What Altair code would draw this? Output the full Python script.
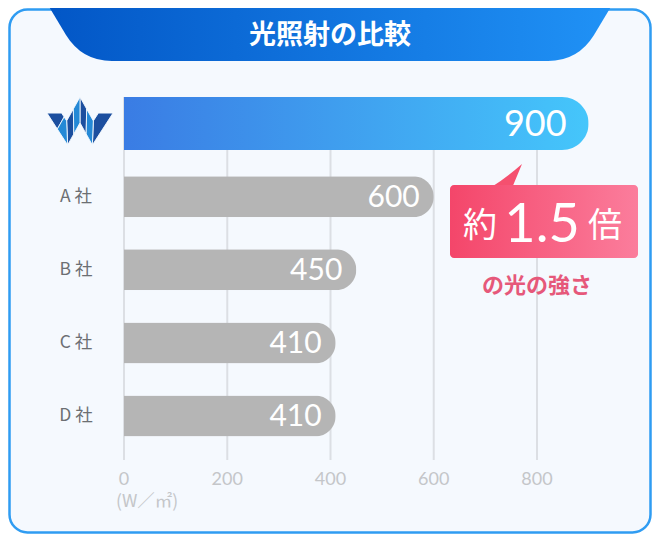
import altair as alt
import pandas as pd
import numpy as np

# ---------------- data ----------------
companies = ["logo", "A 社", "B 社", "C 社", "D 社"]
values = [900, 600, 450, 410, 410]
row_labels = ["", "A 社", "B 社", "C 社", "D 社"]
tick_values = [0, 200, 400, 600, 800]
title_text = "光照射の比較"
unit_text = "(W／㎡)"
callout_prefix = "約"
callout_number = "1.5"
callout_suffix = "倍"
callout_note = "の光の強さ"

main = pd.DataFrame({
    "company": companies,
    "value": values,
    "label": [str(v) for v in values],
    "name": row_labels,
})
ticks = pd.DataFrame({"tick": tick_values, "tlabel": [str(t) for t in tick_values]})
one = pd.DataFrame({"k": [0]})

W_CH, H_CH = 644, 526

# ---------------- helpers (decoration shapes) ----------------
def path_from(cmds, cx, cy, R):
    out = []
    for c in cmds:
        op = c[0]
        if op == "Z":
            out.append("Z")
            continue
        s = op + " " + " ".join(f"{(x - cx) / R:.4f},{(y - cy) / R:.4f}" for (x, y) in c[1:])
        out.append(s)
    return " ".join(out)

def pg(x, y):
    return (x - 8, y - 8)

tab_cmds = [
    ("M", pg(45, 0)),
    ("L", pg(66, 35)),
    ("Q", pg(82, 61), pg(112, 61)),
    ("L", pg(548, 61)),
    ("Q", pg(578, 61), pg(594, 35)),
    ("L", pg(615, 0)),
    ("Z",),
]
tab_cx, tab_cy, tab_R = 322.0, 22.5, 285.0
tab_path = path_from(tab_cmds, tab_cx, tab_cy, tab_R)
tab_size = (2 * tab_R) ** 2

ptr_cmds = [
    ("M", pg(490, 188)),
    ("Q", pg(506, 178), pg(522, 164)),
    ("L", pg(512, 188)),
    ("Z",),
]
ptr_cx, ptr_cy, ptr_R = 498.0, 168.0, 16.0
ptr_path = path_from(ptr_cmds, ptr_cx, ptr_cy, ptr_R)
ptr_size = (2 * ptr_R) ** 2

def unit(v):
    return v / np.linalg.norm(v)

def inter(p, d, q, e):
    A = np.array([d, -e]).T
    t, _ = np.linalg.solve(A, q - p)
    return p + t * d

center_line = [(0, 0), (13, 38), (26, -6), (39, 38), (52, 0)]
Q = [np.array(p, float) for p in center_line]
n = len(Q) - 1
hw = 7.0
dirs = [unit(Q[k + 1] - Q[k]) for k in range(n)]
nrm = [np.array([-d[1], d[0]]) for d in dirs]
H = np.array([1.0, 0.0])
segs = []
for k in range(n):
    sides = []
    for side in (1, -1):
        p = Q[k] + side * nrm[k] * hw
        if k == 0:
            s = inter(p, dirs[k], Q[0], H)
        else:
            s = inter(p, dirs[k], Q[k] + side * nrm[k - 1] * hw, dirs[k - 1])
        if k == n - 1:
            e = inter(p, dirs[k], Q[n], H)
        else:
            e = inter(p, dirs[k], Q[k + 1] + side * nrm[k + 1] * hw, dirs[k + 1])
        sides.append((s, e))
    segs.append(sides)

dark_polys, light_polys = [], []
for k, ((sL, eL), (sR, eR)) in enumerate(segs):
    mL, mR = (sL + eL) / 2, (sR + eR) / 2
    first = [sL, mL, mR, sR]
    second = [mL, eL, eR, mR]
    if k == 3:
        dark_polys.append([sL, eL, eR, sR])
    else:
        dark_polys.append(first)
        light_polys.append(second)

allpts = np.array([p for poly in dark_polys + light_polys for p in poly])
mn, mx = allpts.min(axis=0), allpts.max(axis=0)
tx0, tx1, ty0, ty1 = 47 - 8, 113 - 8, 97 - 8, 145 - 8

def tmap(p):
    return (tx0 + (p[0] - mn[0]) / (mx[0] - mn[0]) * (tx1 - tx0),
            ty0 + (p[1] - mn[1]) / (mx[1] - mn[1]) * (ty1 - ty0))

logo_cx, logo_cy = (tx0 + tx1) / 2, (ty0 + ty1) / 2
logo_R = max(tx1 - tx0, ty1 - ty0) / 2

def poly_path(polys):
    cmds = []
    for poly in polys:
        pts = [tmap(p) for p in poly]
        cmds.append(("M", pts[0]))
        for p in pts[1:]:
            cmds.append(("L", p))
        cmds.append(("Z",))
    return path_from(cmds, logo_cx, logo_cy, logo_R)

dark_path = poly_path(dark_polys)
light_path = poly_path(light_polys)
logo_size = (2 * logo_R) ** 2

# ---------------- scales ----------------
xscale = alt.Scale(domain=[0, 800], range=[116, 529], nice=False, zero=False)
yscale = alt.Scale(type="point", domain=companies, range=[115.5, 408], padding=0)

X = alt.X("value:Q", scale=xscale, axis=None)
Y = alt.Y("company:N", scale=yscale, axis=None)

JP = "Noto Sans CJK JP"
NUM = "Lato"

blue_grad = alt.LinearGradient(
    gradient="linear", x1=0, x2=1, y1=0, y2=0,
    stops=[alt.GradientStop(color="#3a7ce4", offset=0),
           alt.GradientStop(color="#45c6fb", offset=1)],
)
tab_grad = alt.LinearGradient(
    gradient="linear", x1=0, x2=1, y1=0, y2=0,
    stops=[alt.GradientStop(color="#0256c6", offset=0),
           alt.GradientStop(color="#2092f6", offset=1)],
)
pink_grad = alt.LinearGradient(
    gradient="linear", x1=0, x2=1, y1=0, y2=0,
    stops=[alt.GradientStop(color="#f4466a", offset=0),
           alt.GradientStop(color="#fb7d9c", offset=1)],
)

# ---------------- layers ----------------
card = alt.Chart(one).mark_rect(
    cornerRadius=18, fill="#f5f9fe", stroke="#2f9cf2", strokeWidth=2.5
).encode(x=alt.value(1.5), x2=alt.value(W_CH - 1.5), y=alt.value(1.5), y2=alt.value(H_CH - 1.5))

tab = alt.Chart(one).mark_point(
    shape=tab_path, size=tab_size, filled=True, fill=tab_grad, opacity=1, strokeWidth=0
).encode(x=alt.value(tab_cx), y=alt.value(tab_cy))

title = alt.Chart(one).mark_text(
    text=title_text, font=JP, fontSize=27, fontWeight="bold", color="white",
    align="center", baseline="alphabetic"
).encode(x=alt.value(322), y=alt.value(36))

grid = alt.Chart(ticks).mark_rule(color="#dcdfe4", strokeWidth=2).encode(
    x=alt.X("tick:Q", scale=xscale, axis=None), y=alt.value(89), y2=alt.value(452)
)

tick_text = alt.Chart(ticks).mark_text(
    font=NUM, fontSize=18, color="#c4c6c9", align="center", baseline="middle"
).encode(x=alt.X("tick:Q", scale=xscale, axis=None), y=alt.value(472), text="tlabel:N")

unit = alt.Chart(one).mark_text(
    text=unit_text, font=JP, fontSize=17.5, color="#c4c6c9", align="left", baseline="middle"
).encode(x=alt.value(108), y=alt.value(494))

ylab = alt.Chart(main).transform_filter(alt.datum.name != "").mark_text(
    font=JP, fontSize=17.5, color="#6c6f73", align="center", baseline="middle"
).encode(x=alt.value(68), y=Y, text="name:N")

logo_dark = alt.Chart(one).mark_point(
    shape=dark_path, size=logo_size, filled=True, fill="#1c4f9f", opacity=1,
    stroke="#f5f9fe", strokeWidth=0.9
).encode(x=alt.value(logo_cx), y=alt.value(logo_cy))

logo_light = alt.Chart(one).mark_point(
    shape=light_path, size=logo_size, filled=True, fill="#2489d6", opacity=1,
    stroke="#f5f9fe", strokeWidth=0.9
).encode(x=alt.value(logo_cx), y=alt.value(logo_cy))

top_bar = alt.Chart(main).transform_filter(alt.datum.company == "logo").mark_bar(
    size=53, cornerRadiusEnd=26.5, color=blue_grad
).encode(x=X, y=Y)

gray_bars = alt.Chart(main).transform_filter(alt.datum.company != "logo").mark_bar(
    size=41, cornerRadiusEnd=20.5, color="#b5b5b5"
).encode(x=X, y=Y)

top_val = alt.Chart(main).transform_filter(alt.datum.company == "logo").mark_text(
    font=NUM, fontSize=36, color="white", align="right", baseline="middle", dx=-22, dy=1
).encode(x=X, y=Y, text="label:N")

gray_val = alt.Chart(main).transform_filter(alt.datum.company != "logo").mark_text(
    font=NUM, fontSize=30, color="white", align="right", baseline="middle", dx=-14, dy=1
).encode(x=X, y=Y, text="label:N")

pointer = alt.Chart(one).mark_point(
    shape=ptr_path, size=ptr_size, filled=True, fill="#f5506f", opacity=1, strokeWidth=0
).encode(x=alt.value(ptr_cx), y=alt.value(ptr_cy))

callout = alt.Chart(one).mark_rect(cornerRadius=4, fill=pink_grad).encode(
    x=alt.value(442), x2=alt.value(630), y=alt.value(177), y2=alt.value(250)
)

c_pre = alt.Chart(one).mark_text(
    text=callout_prefix, font=JP, fontSize=34, color="white", align="center", baseline="alphabetic"
).encode(x=alt.value(472), y=alt.value(229))

c_num = alt.Chart(one).mark_text(
    text=callout_number, font=NUM, fontSize=54, fontWeight="normal", color="white",
    align="center", baseline="alphabetic"
).encode(x=alt.value(534), y=alt.value(234))

c_suf = alt.Chart(one).mark_text(
    text=callout_suffix, font=JP, fontSize=34, color="white", align="center", baseline="alphabetic"
).encode(x=alt.value(597), y=alt.value(229))

note = alt.Chart(one).mark_text(
    text=callout_note, font=JP, fontSize=22, fontWeight="bold", color="#e6587a",
    align="center", baseline="middle"
).encode(x=alt.value(529), y=alt.value(278))

chart = alt.layer(
    card, tab, title, grid, tick_text, unit, ylab, logo_dark, logo_light,
    top_bar, gray_bars, top_val, gray_val, pointer, callout, c_pre, c_num, c_suf, note
).properties(
    width=W_CH, height=H_CH, padding=0,
    autosize=alt.AutoSizeParams(type="none"),
    background="white",
).configure_view(strokeWidth=0)

chart.save("out.html", embed_options={"renderer": "svg", "actions": False})
